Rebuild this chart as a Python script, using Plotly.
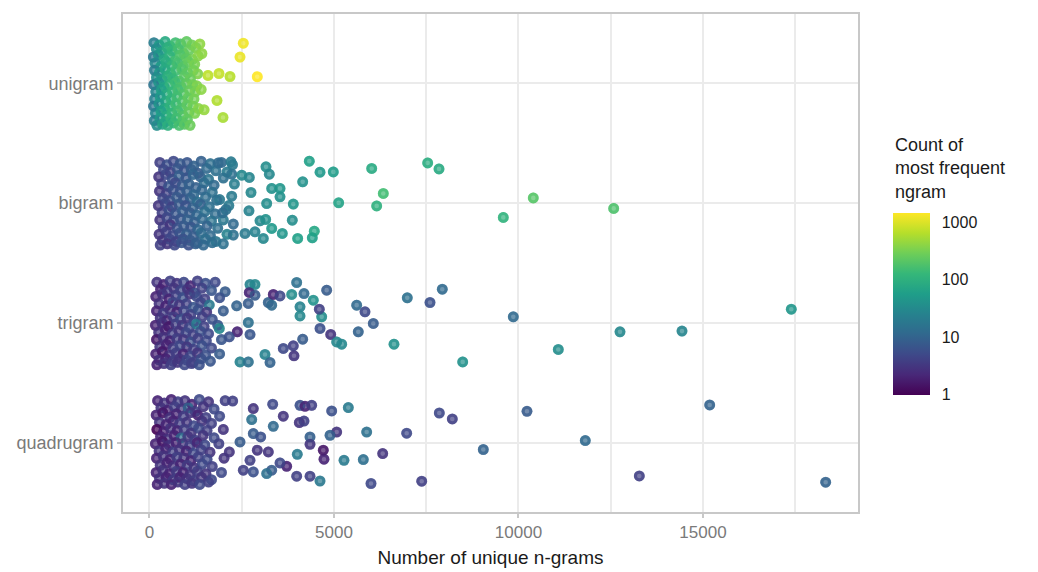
import numpy as np
import plotly.graph_objects as go

# ---------------- data ----------------
categories = ["quadrugram", "trigram", "bigram", "unigram"]
cat_pos = [1, 2, 3, 4]

# unigram
uni_x = [120, 265, 425, 560, 705, 845, 1005, 1150, 1365,
         185, 330, 480, 615, 780, 925, 1075, 1255,
         105, 240, 395, 545, 690, 835, 995, 1160, 1320,
         150, 300, 455, 600, 760, 905, 1060, 1225,
         135, 270, 420, 575, 720, 880, 1035, 1190, 1305,
         190, 345, 490, 640, 800, 950, 1110,
         115, 250, 400, 555, 700, 860, 1010, 1170, 1280,
         170, 320, 470, 625, 770, 930, 1090, 1240,
         140, 290, 440, 590, 745, 890, 1045, 1205,
         110, 255, 410, 565, 710, 870, 1020, 1180, 1330,
         160, 310, 460, 610, 765, 915, 1070, 1230,
         130, 280, 430, 580, 730, 880, 1025,
         200, 350, 500, 655, 805, 950, 1100,
         1585, 1883, 2182, 1829, 1992, 2453, 2542, 2921, 1420, 1480, 1400]
uni_jit = [0.34, 0.32, 0.35, 0.31, 0.34, 0.33, 0.35, 0.32, 0.33,
           0.29, 0.26, 0.30, 0.27, 0.29, 0.25, 0.28, 0.30,
           0.22, 0.24, 0.20, 0.23, 0.19, 0.24, 0.21, 0.20, 0.23,
           0.17, 0.14, 0.18, 0.15, 0.17, 0.14, 0.18, 0.16,
           0.11, 0.09, 0.12, 0.08, 0.11, 0.12, 0.09, 0.11, 0.08,
           0.05, 0.03, 0.06, 0.04, 0.02, 0.06, 0.04,
           -0.01, 0.01, -0.03, -0.01, 0.01, -0.03, 0.00, -0.01, -0.02,
           -0.07, -0.05, -0.09, -0.07, -0.05, -0.09, -0.06, -0.07,
           -0.13, -0.11, -0.15, -0.13, -0.11, -0.15, -0.12, -0.13,
           -0.19, -0.17, -0.21, -0.19, -0.17, -0.21, -0.18, -0.19, -0.21,
           -0.25, -0.23, -0.27, -0.25, -0.23, -0.27, -0.24, -0.25,
           -0.31, -0.29, -0.32, -0.30, -0.29, -0.32, -0.30,
           -0.35, -0.34, -0.35, -0.33, -0.35, -0.34, -0.35,
           0.067, 0.083, 0.058, -0.142, -0.284, 0.22, 0.336, 0.056, 0.25, -0.22, -0.05]
uni_cnt = [22, 55, 80, 120, 150, 190, 240, 300, 420,
           35, 70, 95, 130, 170, 210, 260, 340,
           18, 45, 85, 110, 160, 185, 230, 310, 380,
           30, 60, 90, 125, 165, 200, 250, 330,
           20, 50, 80, 115, 150, 195, 240, 290, 360,
           35, 65, 100, 130, 175, 215, 270,
           16, 45, 75, 120, 145, 190, 235, 300, 350,
           28, 60, 95, 125, 160, 205, 260, 320,
           24, 55, 85, 120, 155, 195, 250, 310,
           17, 50, 80, 115, 150, 190, 240, 300, 380,
           27, 60, 90, 125, 160, 205, 255, 330,
           22, 55, 85, 120, 155, 195, 240,
           35, 65, 100, 130, 170, 215, 270,
           700, 750, 650, 600, 550, 1150, 1250, 1450, 420, 450, 400]

# bigram
bi_x = [280, 470, 650, 830, 1020, 1200, 1400, 1650, 1950, 2250,
        380, 560, 760, 940, 1130, 1320, 1550, 1800, 2100,
        250, 440, 620, 800, 990, 1180, 1380, 1600, 2000,
        330, 520, 700, 890, 1070, 1260, 1480, 1750, 2300,
        270, 460, 640, 830, 1010, 1200, 1420, 1700,
        360, 550, 740, 920, 1110, 1300, 1520, 1900,
        240, 430, 610, 800, 980, 1170, 1380, 1620, 2150,
        340, 530, 710, 900, 1090, 1280, 1500, 1780,
        280, 470, 650, 840, 1030, 1220, 1430, 1680, 2000,
        370, 560, 750, 930, 1120, 1310, 1560, 1850,
        260, 450, 630, 820, 1000, 1190, 1400, 1650, 2100,
        350, 540, 720, 910, 1100, 1300, 1520, 1800,
        290, 480, 680, 870, 1060, 1250, 1460, 1700, 2000,
        3157, 3247, 3312, 3537, 3537, 3176, 2696, 2751, 2705, 2995,
        3149, 3312, 3599, 3870, 4016, 3084, 2859, 2588, 2271, 2271,
        2228, 2228, 2499, 2209, 1864, 1821, 1984, 2073,
        4331, 4621, 4981, 6022, 6336, 6157, 5127, 4152, 3897, 4466, 4412,
        7539, 7846, 10401, 9588, 12580]
bi_jit = [0.34, 0.32, 0.35, 0.33, 0.34, 0.31, 0.35, 0.33, 0.34, 0.32,
          0.28, 0.26, 0.29, 0.27, 0.28, 0.25, 0.29, 0.27, 0.26,
          0.22, 0.24, 0.20, 0.23, 0.21, 0.24, 0.22, 0.20, 0.21,
          0.16, 0.14, 0.17, 0.15, 0.16, 0.13, 0.17, 0.15, 0.16,
          0.10, 0.08, 0.11, 0.09, 0.10, 0.07, 0.11, 0.09,
          0.04, 0.02, 0.05, 0.03, 0.04, 0.01, 0.05, 0.03,
          -0.02, 0.00, -0.03, -0.01, -0.02, -0.04, -0.01, -0.03, -0.02,
          -0.08, -0.06, -0.09, -0.07, -0.08, -0.10, -0.07, -0.09,
          -0.14, -0.12, -0.15, -0.13, -0.14, -0.16, -0.13, -0.15, -0.14,
          -0.20, -0.18, -0.21, -0.19, -0.20, -0.22, -0.19, -0.21,
          -0.26, -0.24, -0.27, -0.25, -0.26, -0.28, -0.25, -0.27, -0.26,
          -0.31, -0.30, -0.32, -0.30, -0.31, -0.33, -0.30, -0.32,
          -0.35, -0.34, -0.35, -0.33, -0.35, -0.34, -0.35, -0.33, -0.34,
          0.303, 0.242, 0.123, 0.123, 0.053, -0.003, -0.064, 0.089, 0.215, -0.148,
          -0.136, -0.211, -0.253, -0.142, -0.295, -0.295, -0.240, -0.253, -0.267, -0.175,
          0.058, 0.242, 0.234, 0.345, 0.336, 0.025, -0.081, -0.053,
          0.351, 0.259, 0.261, 0.290, 0.081, -0.023, 0.003, 0.178, -0.008, -0.234, -0.290,
          0.336, 0.286, 0.044, -0.119, -0.044]
bi_cnt = [4, 6, 5, 8, 7, 10, 9, 14, 12, 18,
          5, 4, 7, 6, 9, 8, 12, 15, 20,
          3, 5, 6, 9, 7, 11, 10, 16, 14,
          4, 7, 5, 8, 10, 9, 13, 12, 22,
          3, 4, 6, 7, 9, 12, 11, 15,
          5, 6, 8, 7, 10, 14, 13, 18,
          3, 5, 4, 8, 6, 10, 9, 14, 20,
          4, 6, 7, 9, 8, 11, 15, 13,
          3, 5, 6, 7, 10, 9, 12, 16, 18,
          4, 3, 6, 8, 7, 11, 10, 14,
          3, 4, 5, 7, 9, 8, 13, 12, 25,
          3, 5, 4, 6, 8, 10, 14, 17,
          4, 3, 5, 7, 6, 9, 11, 13, 15,
          35, 30, 40, 45, 40, 35, 25, 30, 28, 30,
          40, 50, 45, 35, 60, 30, 25, 20, 15, 12,
          20, 15, 30, 20, 12, 14, 12, 15,
          60, 50, 55, 80, 150, 100, 65, 40, 45, 75, 60,
          90, 85, 200, 110, 180]

# trigram
tri_x = [200, 380, 560, 740, 930, 1110, 1300, 1520, 1780,
         300, 480, 660, 840, 1030, 1220, 1420, 1680, 2050,
         170, 350, 530, 720, 900, 1090, 1280, 1500, 1900,
         260, 440, 630, 810, 1000, 1190, 1390, 1620,
         190, 370, 560, 740, 930, 1120, 1320, 1550, 2000,
         290, 470, 650, 840, 1020, 1210, 1430, 1700,
         160, 340, 520, 710, 890, 1080, 1270, 1480, 1850,
         250, 430, 620, 800, 990, 1180, 1380, 1600,
         190, 370, 550, 740, 920, 1110, 1310, 1540, 1950,
         280, 460, 640, 830, 1010, 1200, 1420, 1680,
         170, 350, 540, 720, 910, 1100, 1300, 1520, 1900,
         260, 440, 630, 810, 1000, 1190, 1400, 1650,
         200, 390, 580, 760, 950, 1140, 1350,
         2724, 2859, 2705, 2859, 2363, 2678, 2678, 2724, 2379, 2163,
         1892, 2453, 2678, 3130, 3266, 3220, 3312, 3355, 3537, 3854,
         3989, 4187, 4439, 4079, 4079, 4667, 4602, 4621, 4911, 5073,
         5209, 4152, 3897, 3626, 3916, 4802, 5615, 5840, 6065, 5658, 6626,
         6986, 7602, 7935, 9859, 8488, 11079, 12751, 14431, 17393]
tri_jit = [0.34, 0.32, 0.35, 0.33, 0.34, 0.31, 0.35, 0.33, 0.34,
           0.28, 0.26, 0.29, 0.27, 0.28, 0.25, 0.29, 0.27, 0.26,
           0.22, 0.24, 0.20, 0.23, 0.21, 0.24, 0.22, 0.20, 0.21,
           0.16, 0.14, 0.17, 0.15, 0.16, 0.13, 0.17, 0.15,
           0.10, 0.08, 0.11, 0.09, 0.10, 0.07, 0.11, 0.09, 0.10,
           0.04, 0.02, 0.05, 0.03, 0.04, 0.01, 0.05, 0.03,
           -0.02, 0.00, -0.03, -0.01, -0.02, -0.04, -0.01, -0.03, -0.02,
           -0.08, -0.06, -0.09, -0.07, -0.08, -0.10, -0.07, -0.09,
           -0.14, -0.12, -0.15, -0.13, -0.14, -0.16, -0.13, -0.15, -0.14,
           -0.20, -0.18, -0.21, -0.19, -0.20, -0.22, -0.19, -0.21,
           -0.26, -0.24, -0.27, -0.25, -0.26, -0.28, -0.25, -0.27, -0.26,
           -0.31, -0.30, -0.32, -0.30, -0.31, -0.33, -0.30, -0.32,
           -0.35, -0.34, -0.35, -0.33, -0.35, -0.34, -0.35,
           0.321, 0.321, 0.254, 0.231, 0.142, 0.162, 0.003, -0.097, -0.075, -0.117,
           -0.047, -0.326, -0.326, -0.264, -0.331, 0.170, 0.148, 0.237, 0.225, 0.237,
           0.337, 0.245, 0.189, 0.134, 0.058, 0.050, 0.114, -0.047, -0.097, -0.159,
           -0.178, -0.136, -0.192, -0.214, -0.275, 0.273, 0.148, 0.092, -0.005, -0.075, -0.178,
           0.209, 0.170, 0.281, 0.050, -0.326, -0.222, -0.075, -0.069, 0.114]
tri_cnt = [3, 2, 4, 3, 5, 2, 4, 6, 5,
           2, 4, 3, 5, 3, 6, 4, 7, 8,
           2, 3, 2, 4, 6, 3, 5, 4, 6,
           3, 2, 5, 3, 4, 7, 5, 20,
           2, 4, 3, 2, 5, 4, 6, 3, 8,
           3, 2, 4, 6, 3, 5, 4, 6,
           2, 3, 1.5, 4, 3, 5, 22, 4, 7,
           3, 2, 4, 3, 5, 4, 6, 5,
           1.5, 3, 2, 4, 3, 6, 4, 5, 7,
           3, 2, 4, 5, 3, 4, 6, 5,
           2, 1.5, 3, 4, 2, 5, 3, 6, 8,
           3, 2, 4, 3, 5, 4, 6, 7,
           2, 3, 4, 3, 5, 4, 6,
           25, 30, 2, 8, 10, 8, 15, 7, 2, 6,
           30, 25, 15, 25, 10, 10, 12, 2, 5, 35,
           15, 12, 40, 25, 30, 35, 4, 6, 3, 30,
           30, 8, 4, 5, 3, 8, 12, 5, 8, 10, 40,
           15, 6, 12, 12, 40, 35, 30, 28, 45]

# quadrugram
quad_x = [220, 400, 590, 770, 960, 1150, 1350, 1600, 2050,
          310, 490, 680, 860, 1050, 1240, 1460, 1750,
          180, 360, 550, 730, 920, 1110, 1310, 1530, 1900,
          270, 450, 640, 820, 1010, 1200, 1420, 1680,
          200, 380, 570, 750, 940, 1130, 1330, 1560, 2000,
          300, 480, 670, 850, 1040, 1230, 1450, 1750,
          160, 350, 530, 720, 900, 1090, 1290, 1500, 1880,
          260, 440, 630, 810, 1000, 1190, 1400, 1640,
          190, 370, 560, 740, 930, 1120, 1320, 1560, 2020,
          290, 470, 650, 840, 1020, 1210, 1430, 1700,
          180, 360, 540, 730, 910, 1100, 1300, 1530, 1950,
          270, 450, 640, 820, 1010, 1200, 1410, 1680,
          210, 400, 590, 770, 960, 1150, 1360, 1600,
          2255, 2813, 2770, 3339, 3626, 4079, 4214, 4396, 4060, 4187,
          3355, 4938, 5388, 5073, 4892, 4350, 4350, 5886, 2921, 3220,
          2453, 2163, 2813, 3014, 4005, 4710, 4729, 5271, 5794, 6320,
          3718, 3537, 3312, 3176, 2813, 2542, 2724, 3989, 4350, 4621, 6003,
          7854, 8206, 6970, 9046, 10230, 11810, 15182, 7377, 13274, 18325]
quad_jit = [0.35, 0.33, 0.36, 0.34, 0.35, 0.32, 0.36, 0.34, 0.35,
            0.29, 0.27, 0.30, 0.28, 0.29, 0.26, 0.30, 0.28,
            0.23, 0.25, 0.21, 0.24, 0.22, 0.25, 0.23, 0.21, 0.22,
            0.17, 0.15, 0.18, 0.16, 0.17, 0.14, 0.18, 0.16,
            0.11, 0.09, 0.12, 0.10, 0.11, 0.08, 0.12, 0.10, 0.11,
            0.05, 0.03, 0.06, 0.04, 0.05, 0.02, 0.06, 0.04,
            -0.01, 0.01, -0.02, 0.00, -0.01, -0.03, 0.00, -0.02, -0.01,
            -0.07, -0.05, -0.08, -0.06, -0.07, -0.09, -0.06, -0.08,
            -0.13, -0.11, -0.14, -0.12, -0.13, -0.15, -0.12, -0.14, -0.13,
            -0.19, -0.17, -0.20, -0.18, -0.19, -0.21, -0.18, -0.20,
            -0.25, -0.23, -0.26, -0.24, -0.25, -0.27, -0.24, -0.26, -0.25,
            -0.30, -0.29, -0.31, -0.29, -0.30, -0.32, -0.29, -0.31,
            -0.35, -0.34, -0.35, -0.33, -0.35, -0.34, -0.35, -0.33,
            0.347, 0.284, 0.192, 0.320, 0.220, 0.311, 0.303, 0.311, 0.167, 0.180,
            0.136, 0.264, 0.292, 0.088, 0.061, 0.047, -0.014, 0.088, -0.064, -0.078,
            0.005, -0.078, 0.075, 0.047, -0.098, -0.064, -0.139, -0.148, -0.142, -0.092,
            -0.198, -0.170, -0.231, -0.259, -0.245, -0.231, -0.148, -0.281, -0.281, -0.321, -0.342,
            0.247, 0.197, 0.078, -0.058, 0.261, 0.017, 0.314, -0.323, -0.279, -0.331]
quad_cnt = [2, 3, 2, 4, 3, 2, 5, 3, 4,
            3, 2, 4, 3, 12, 4, 3, 5,
            2, 1.5, 3, 2, 4, 3, 2, 4, 5,
            3, 2, 2, 4, 3, 5, 3, 4,
            1, 2, 3, 2, 4, 3, 5, 4, 3,
            2, 3, 2, 15, 3, 4, 3, 5,
            2, 1.5, 3, 2, 3, 4, 2, 5, 4,
            3, 2, 4, 3, 2, 5, 4, 3,
            2, 3, 2, 4, 3, 2, 4, 5, 3,
            3, 2, 3, 2, 4, 3, 5, 4,
            2, 3, 2, 4, 2, 3, 4, 3, 5,
            3, 2, 4, 2, 3, 4, 3, 5,
            2, 3, 2, 3, 4, 3, 5, 4,
            4, 3, 15, 5, 3, 6, 2, 4, 3, 4,
            12, 6, 20, 3, 10, 9, 3, 15, 3, 3,
            8, 3, 8, 6, 20, 1.5, 2, 20, 14, 3,
            2, 5, 8, 15, 6, 4, 4, 4, 4, 18, 5,
            5, 4, 5, 10, 8, 12, 10, 4, 4, 10]

series = [
    (4, uni_x, uni_jit, uni_cnt),
    (3, bi_x, bi_jit, bi_cnt),
    (2, tri_x, tri_jit, tri_cnt),
    (1, quad_x, quad_jit, quad_cnt),
]

colorbar_vals = [1, 10, 100, 1000]

# ---------------- build ----------------
CMIN, CMAX = 0.0, 3.16
fig = go.Figure()

for i, (pos, xs, js, cs) in enumerate(series):
    ys = [pos + j for j in js]
    cv = np.log10(cs)
    # filled disc
    fig.add_trace(go.Scatter(
        x=xs, y=ys, mode="markers", hoverinfo="skip",
        marker=dict(
            size=11, opacity=0.7, symbol="circle",
            color=cv, colorscale="Viridis", cmin=CMIN, cmax=CMAX,
            line=dict(width=0),
            showscale=(i == 0),
            colorbar=dict(
                x=1.0476, xanchor="left", xpad=0,
                y=0.418, yanchor="middle", ypad=0,
                len=182, lenmode="pixels",
                thickness=37, thicknessmode="pixels",
                outlinewidth=0,
                tickvals=[float(np.log10(v)) for v in colorbar_vals],
                ticktext=[str(v) for v in colorbar_vals],
                ticks="outside", ticklen=9, tickcolor="rgba(255,255,255,0)",
                tickfont=dict(size=16, color="#1a1a1a"),
            ),
        ),
    ))
    # darker ring (stroke overlapping the fill, as in the reference)
    fig.add_trace(go.Scatter(
        x=xs, y=ys, mode="markers", hoverinfo="skip",
        marker=dict(
            size=7.6, opacity=0.7, symbol="circle-open",
            color=cv, colorscale="Viridis", cmin=CMIN, cmax=CMAX,
            line=dict(width=3, color=cv, colorscale="Viridis", cmin=CMIN, cmax=CMAX),
            showscale=False,
        ),
    ))

grid = "#EBEBEB"
border = "#C8C8C8"
# the page body adds an 8px offset, so the figure is 8px smaller than the window
fig.update_layout(
    width=1030, height=564,
    margin=dict(l=115, r=180, t=6, b=60, autoexpand=False),
    plot_bgcolor="white", paper_bgcolor="white",
    font=dict(family="Liberation Sans, Arial, sans-serif", color="#1a1a1a"),
    showlegend=False,
    xaxis=dict(
        range=[-718, 19201], automargin=False,
        tickvals=[0, 5000, 10000, 15000],
        ticktext=["0", "5000", "10000", "15000"],
        showgrid=True, gridcolor=grid, gridwidth=1.6,
        minor=dict(tickvals=[2500, 7500, 12500, 17500], showgrid=True,
                   gridcolor=grid, gridwidth=1.6, ticks=""),
        zeroline=False,
        showline=True, mirror=True, linecolor=border, linewidth=1.6,
        ticks="outside", ticklen=4, tickwidth=1.6, tickcolor=border,
        tickfont=dict(size=17, color="#7a7a7a"),
        title=dict(text="Number of unique n-grams", font=dict(size=19, color="#1a1a1a"), standoff=9),
    ),
    yaxis=dict(
        range=[0.42, 4.58], automargin=False,
        tickvals=cat_pos, ticktext=categories,
        showgrid=True, gridcolor=grid, gridwidth=1.6,
        zeroline=False,
        showline=True, mirror=True, linecolor=border, linewidth=1.6,
        ticks="outside", ticklen=4, tickwidth=1.6, tickcolor=border,
        tickfont=dict(size=18, color="#7a7a7a"),
    ),
    annotations=[dict(
        text="Count of<br>most frequent<br>ngram",
        xref="paper", yref="paper", x=1.0476, y=0.761,
        xanchor="left", yanchor="top", align="left", showarrow=False,
        font=dict(size=18, color="#1a1a1a"),
    )],
)

fig.write_html("out.html")
